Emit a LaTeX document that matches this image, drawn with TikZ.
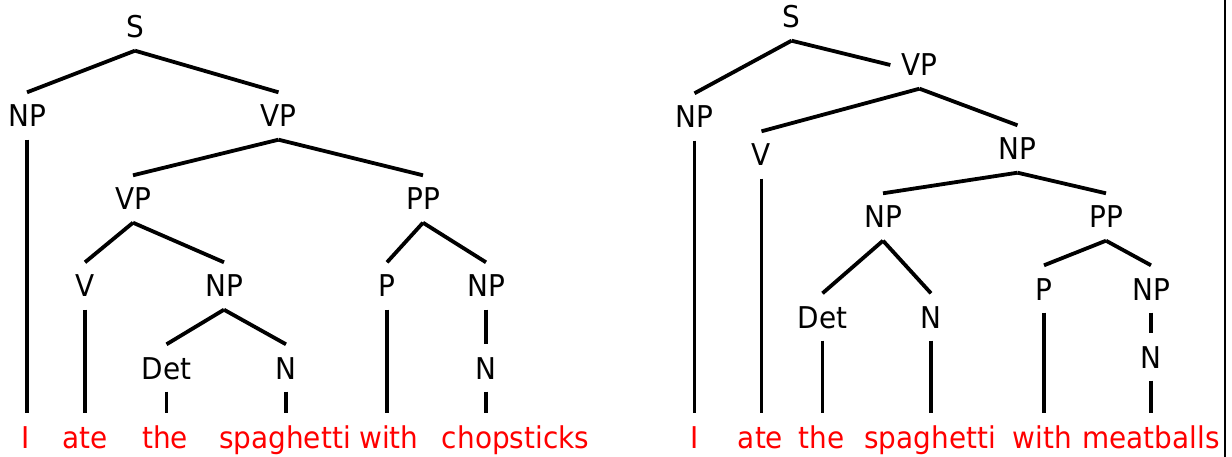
\documentclass[tikz,border=0pt]{standalone}
\usepackage{fontspec}
\newfontfamily\tfont[FakeStretch=0.93]{DejaVu Sans}
\begin{document}
\begin{tikzpicture}[x=1pt,y=-1pt,
  cat/.style={anchor=base, text height=22pt, text depth=0pt, inner xsep=0pt, inner ysep=12.5pt, font=\tfont\fontsize{30}{36}\selectfont},
  word/.style={cat, text=red},
  branch/.style={line width=3.8pt, black}]
\useasboundingbox (0,0) rectangle (1232,457);
% ---------------- left tree
\node[cat] (LS) at (135,38) {S};
\node[cat] (LNP) at (27,127) {NP};
\node[cat] (LVP) at (278.5,127) {VP};
\node[cat] (LVP2) at (133,210) {VP};
\node[cat] (LPP) at (423,210) {PP};
\node[cat] (LV) at (85,297) {V};
\node[cat] (LNP2) at (224,297) {NP};
\node[cat] (LP) at (387,297) {P};
\node[cat] (LNP3) at (486,297) {NP};
\node[cat] (LDet) at (166.5,379) {Det};
\node[cat] (LN) at (286,379) {N};
\node[cat] (LN2) at (486,379) {N};
\node[word] (LwI) at (26,448) {I};
\node[word] (Lwate) at (85,448) {ate};
\node[word] (Lwthe) at (165,448) {the};
\node[word] (Lwspag) at (285,448) {spaghetti};
\node[word] (Lwwith) at (389,448) {with};
\node[word] (Lwchop) at (515.5,448) {chopsticks};
\foreach \a/\b in {LS/LNP, LS/LVP, LVP/LVP2, LVP/LPP, LVP2/LV, LVP2/LNP2,
  LNP2/LDet, LNP2/LN, LPP/LP, LPP/LNP3, LNP3/LN2}
  \draw[branch] (\a.south) -- (\b.north);
\foreach \a/\b in {LNP/LwI, LV/Lwate, LDet/Lwthe, LN/Lwspag, LP/Lwwith, LN2/Lwchop}
  \draw[branch] (\a.south) -- (\a.south |- \b.north);
% ---------------- right tree
\node[cat] (RS) at (791.5,28) {S};
\node[cat] (RNP) at (694.5,128) {NP};
\node[cat] (RVP) at (919.5,76) {VP};
\node[cat] (RV) at (761.5,166) {V};
\node[cat] (RNP2) at (1017.5,160) {NP};
\node[cat] (RNP3) at (883,228) {NP};
\node[cat] (RPP) at (1106,228) {PP};
\node[cat] (RDet) at (822.5,328) {Det};
\node[cat] (RN) at (931,328) {N};
\node[cat] (RP) at (1044,300) {P};
\node[cat] (RNP4) at (1151,300) {NP};
\node[cat] (RN2) at (1151,368) {N};
\node[word] (RwI) at (695,448) {I};
\node[word] (Rwate) at (760.5,448) {ate};
\node[word] (Rwthe) at (821.5,448) {the};
\node[word] (Rwspag) at (930,448) {spaghetti};
\node[word] (Rwwith) at (1042.5,448) {with};
\node[word] (Rwmeat) at (1151,448) {meatballs};
\draw[branch] (RS.south) -- ([xshift=-11pt]RVP.west);
\foreach \a/\b in {RS/RNP, RVP/RV, RVP/RNP2, RNP2/RNP3,
  RNP2/RPP, RNP3/RDet, RNP3/RN, RPP/RP, RPP/RNP4, RNP4/RN2}
  \draw[branch] (\a.south) -- (\b.north);
\foreach \a/\b in {RNP/RwI, RV/Rwate, RDet/Rwthe, RN/Rwspag, RP/Rwwith, RN2/Rwmeat}
  \draw[branch] (\a.south) -- (\a.south |- \b.north);
% ---------------- right border
\coordinate (bt) at (1224.5,0);
\coordinate (bb) at (1224.5,457);
\draw[line width=2pt] (bt) -- (bb);
\end{tikzpicture}
\end{document}
